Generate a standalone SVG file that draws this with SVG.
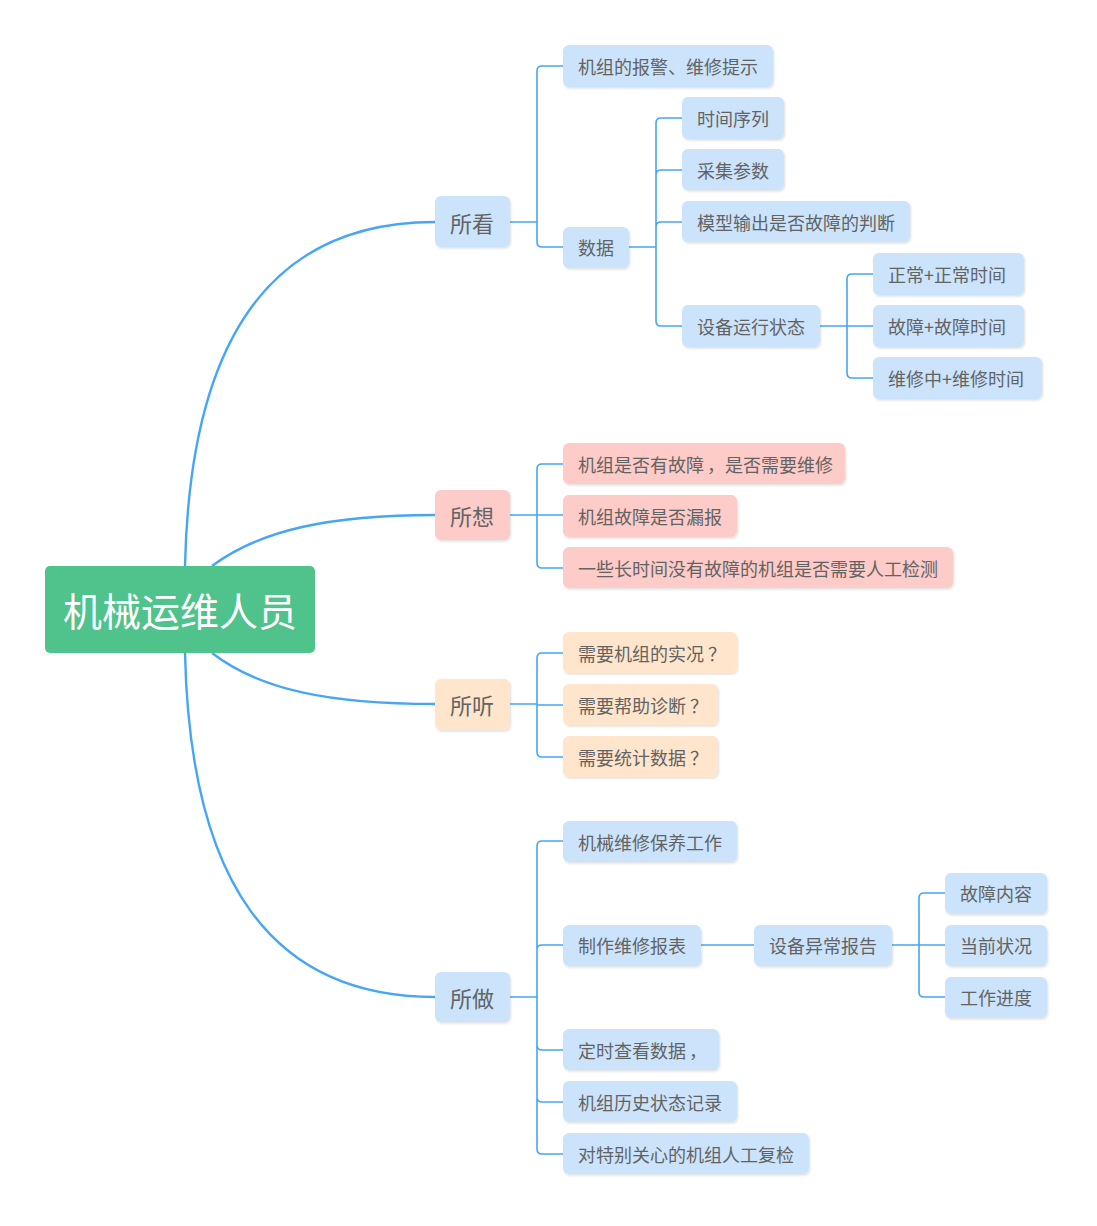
<svg xmlns="http://www.w3.org/2000/svg" width="1097" height="1226" viewBox="0 0 1097 1226">
<defs>
<filter id="sh" x="-10%" y="-20%" width="120%" height="150%">
<feDropShadow dx="1" dy="1.5" stdDeviation="1" flood-color="#000" flood-opacity="0.13"/>
</filter>
</defs>
<style>
text{font-family:"Noto Sans CJK SC","Noto Sans",sans-serif;fill:#636363}
.t2{font-size:18px}
.t1{font-size:22px;text-anchor:middle}
.root text{font-size:39px;fill:#fff;text-anchor:middle}
.b rect{fill:#cbe4fc;filter:url(#sh)}
.p rect{fill:#fdcbc8;filter:url(#sh)}
.o rect{fill:#fee5cb;filter:url(#sh)}
.root rect{fill:#50c28b}
.c path{fill:none;stroke:#46a6f4;stroke-width:1.6}
.c .m{stroke-width:2.4}
</style>
<rect width="1097" height="1226" fill="#fff"/>
<g class="c" id="connectors">
<path class="m" d="M185,566 C190,340 270,222 435,222"/>
<path class="m" d="M212,566 C260,530 330,515 435,515"/>
<path class="m" d="M212,653 C260,690 330,704 435,704"/>
<path class="m" d="M185,653 C190,880 270,997 435,997"/>
<path d="M510,222 H537 M537,222 V71 Q537,66 542,66 H563 M537,222 V242 Q537,247 542,247 H563"/>
<path d="M629,247 H656 M656,247 V123 Q656,118 661,118 H682 M656,247 V175 Q656,170 661,170 H682 M656,247 V227 Q656,222 661,222 H682 M656,247 V321 Q656,326 661,326 H682"/>
<path d="M820,326 H873 M847,326 V279 Q847,274 852,274 H873 M847,326 V373 Q847,378 852,378 H873"/>
<path d="M510,515 H563 M537,515 V469 Q537,464 542,464 H563 M537,515 V563 Q537,568 542,568 H563"/>
<path d="M510,704 H537 M537,704 V658 Q537,653 542,653 H563 M537,704 V705 H563 M537,704 V752 Q537,757 542,757 H563"/>
<path d="M510,997 H537 M537,997 V846 Q537,841 542,841 H563 M537,997 V950 Q537,945 542,945 H563 M537,997 V1045 Q537,1050 542,1050 H563 M537,997 V1097 Q537,1102 542,1102 H563 M537,997 V1149 Q537,1154 542,1154 H563"/>
<path d="M701,945 H754"/>
<path d="M892,945 H945 M919,945 V898 Q919,893 924,893 H945 M919,945 V992 Q919,997 924,997 H945"/>
</g>
<g class="root" id="root"><rect x="45" y="566" width="270" height="87" rx="5"/><text x="180" y="626">机械运维人员</text></g>

<g class="b" id="n-kan"><rect x="435" y="196" width="75" height="51" rx="6"/><text class="t1" x="472" y="232">所看</text></g>
<g class="b" id="n-k1"><rect x="563" y="45" width="210" height="42" rx="6"/><text class="t2" x="578" y="74">机组的报警、维修提示</text></g>
<g class="b" id="n-shuju"><rect x="563" y="227" width="66" height="41" rx="6"/><text class="t2" x="578" y="255">数据</text></g>
<g class="b" id="n-s1"><rect x="682" y="97" width="102" height="42" rx="6"/><text class="t2" x="697" y="126">时间序列</text></g>
<g class="b" id="n-s2"><rect x="682" y="149" width="102" height="41" rx="6"/><text class="t2" x="697" y="178">采集参数</text></g>
<g class="b" id="n-s3"><rect x="682" y="201" width="228" height="41" rx="6"/><text class="t2" x="697" y="230">模型输出是否故障的判断</text></g>
<g class="b" id="n-s4"><rect x="682" y="305" width="138" height="42" rx="6"/><text class="t2" x="697" y="334">设备运行状态</text></g>
<g class="b" id="n-z1"><rect x="873" y="253" width="151" height="42" rx="6"/><text class="t2" x="888" y="282">正常+正常时间</text></g>
<g class="b" id="n-z2"><rect x="873" y="305" width="151" height="42" rx="6"/><text class="t2" x="888" y="334">故障+故障时间</text></g>
<g class="b" id="n-z3"><rect x="873" y="357" width="169" height="42" rx="6"/><text class="t2" x="888" y="386">维修中+维修时间</text></g>

<g class="p" id="n-xiang"><rect x="435" y="490" width="75" height="50" rx="6"/><text class="t1" x="472" y="525">所想</text></g>
<g class="p" id="n-x1"><rect x="563" y="443" width="282" height="41" rx="6"/><text class="t2" x="578" y="472">机组是否有故障<tspan dx="3">，</tspan>是否需要维修</text></g>
<g class="p" id="n-x2"><rect x="563" y="495" width="174" height="42" rx="6"/><text class="t2" x="578" y="524">机组故障是否漏报</text></g>
<g class="p" id="n-x3"><rect x="563" y="547" width="390" height="41" rx="6"/><text class="t2" x="578" y="576">一些长时间没有故障的机组是否需要人工检测</text></g>

<g class="o" id="n-ting"><rect x="435" y="679" width="75" height="51" rx="6"/><text class="t1" x="472" y="714">所听</text></g>
<g class="o" id="n-t1"><rect x="563" y="632" width="174" height="41" rx="6"/><text class="t2" x="578" y="661">需要机组的实况<tspan dx="4">？</tspan></text></g>
<g class="o" id="n-t2"><rect x="563" y="684" width="155" height="41" rx="6"/><text class="t2" x="578" y="713">需要帮助诊断<tspan dx="4">？</tspan></text></g>
<g class="o" id="n-t3"><rect x="563" y="736" width="155" height="41" rx="6"/><text class="t2" x="578" y="765">需要统计数据<tspan dx="4">？</tspan></text></g>

<g class="b" id="n-zuo"><rect x="435" y="972" width="75" height="50" rx="6"/><text class="t1" x="472" y="1007">所做</text></g>
<g class="b" id="n-d1"><rect x="563" y="821" width="174" height="41" rx="6"/><text class="t2" x="578" y="850">机械维修保养工作</text></g>
<g class="b" id="n-d2"><rect x="563" y="925" width="138" height="41" rx="6"/><text class="t2" x="578" y="953">制作维修报表</text></g>
<g class="b" id="n-d2a"><rect x="754" y="925" width="138" height="41" rx="6"/><text class="t2" x="769" y="953">设备异常报告</text></g>
<g class="b" id="n-e1"><rect x="945" y="873" width="102" height="41" rx="6"/><text class="t2" x="960" y="901">故障内容</text></g>
<g class="b" id="n-e2"><rect x="945" y="925" width="102" height="41" rx="6"/><text class="t2" x="960" y="953">当前状况</text></g>
<g class="b" id="n-e3"><rect x="945" y="977" width="102" height="41" rx="6"/><text class="t2" x="960" y="1005">工作进度</text></g>
<g class="b" id="n-d3"><rect x="563" y="1029" width="156" height="41" rx="6"/><text class="t2" x="578" y="1058">定时查看数据<tspan dx="3">，</tspan></text></g>
<g class="b" id="n-d4"><rect x="563" y="1081" width="174" height="41" rx="6"/><text class="t2" x="578" y="1110">机组历史状态记录</text></g>
<g class="b" id="n-d5"><rect x="563" y="1133" width="246" height="41" rx="6"/><text class="t2" x="578" y="1162">对特别关心的机组人工复检</text></g>
</svg>
